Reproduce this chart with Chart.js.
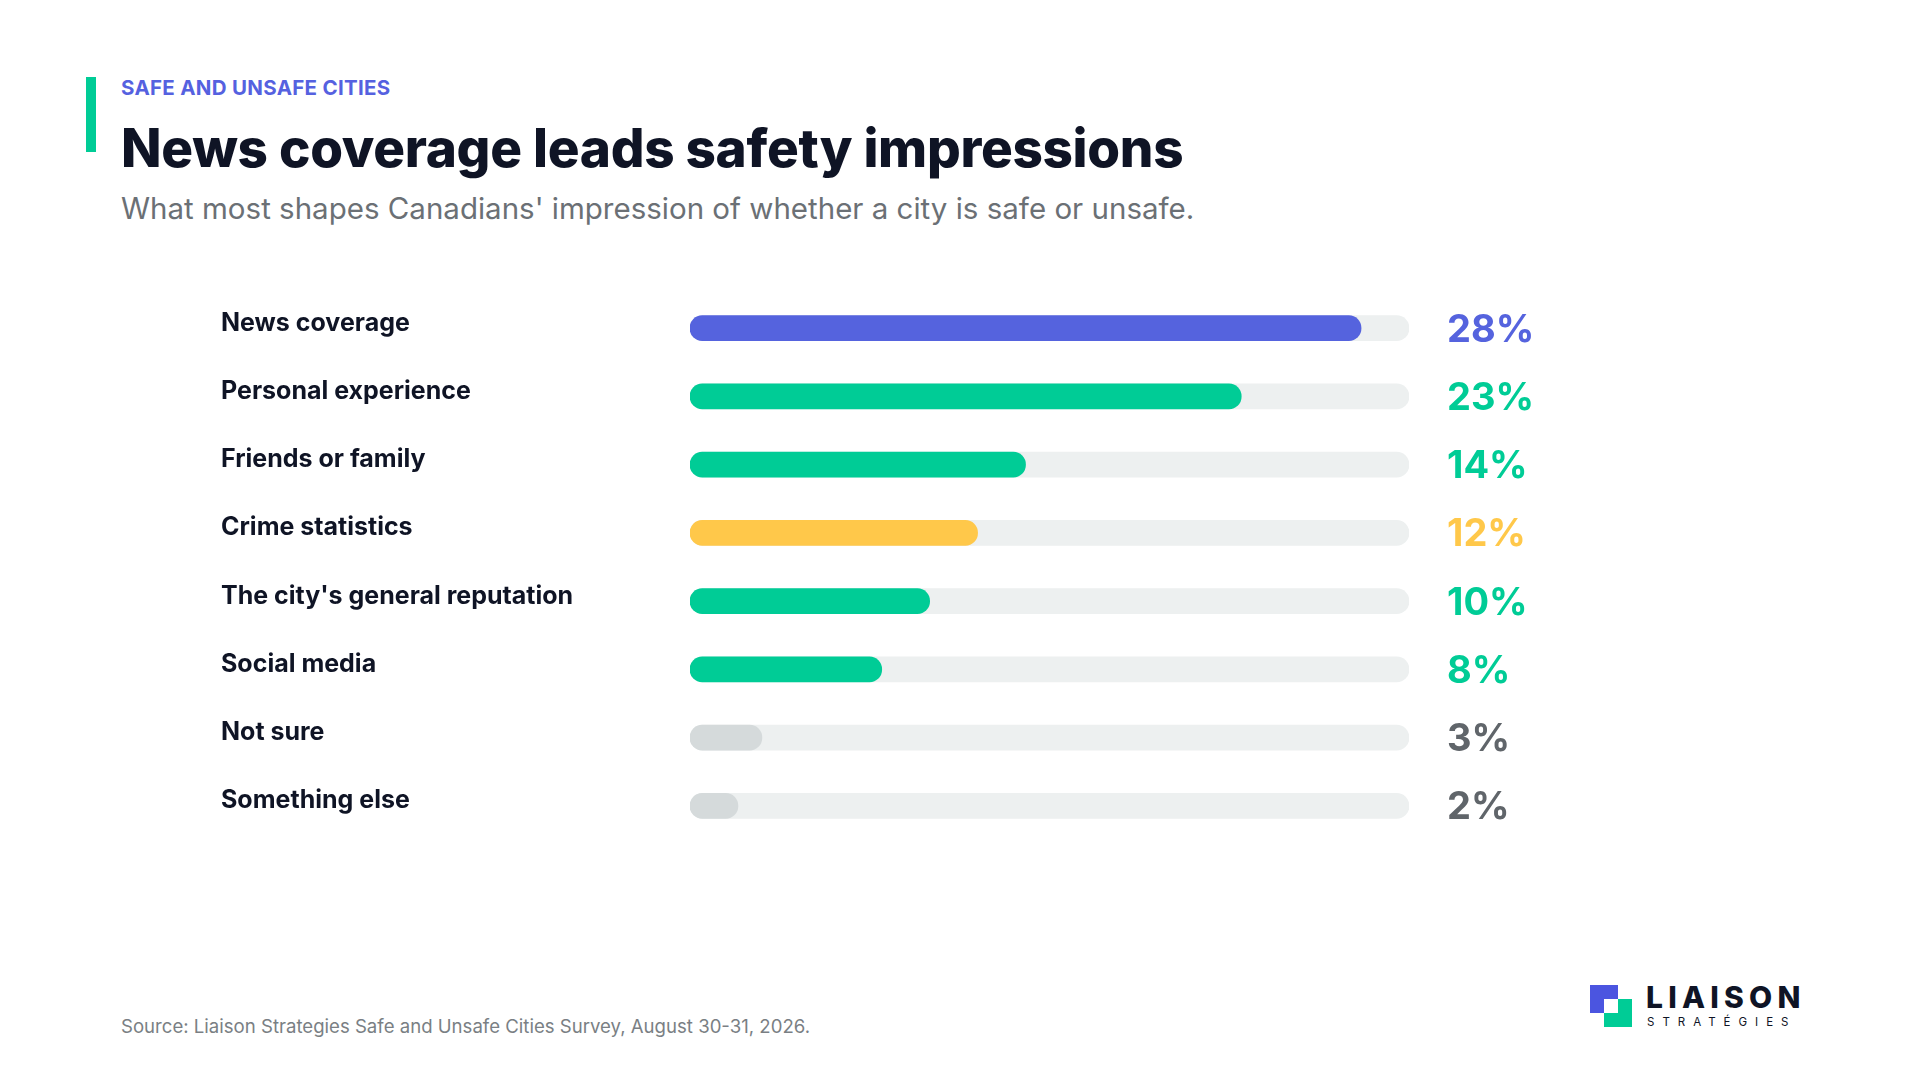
<!DOCTYPE html>
<html>
<head>
<meta charset="utf-8">
<script src="https://cdn.jsdelivr.net/npm/chart.js@4"></script>
<style>
  body { margin:0; width:1920px; height:1080px; background:#fff; font-family: Inter, "Noto Sans", sans-serif; position:relative; overflow:hidden; }
  .accent { position:absolute; left:86px; top:77px; width:10px; height:75px; background:#00CC96; }
  .eyebrow { position:absolute; left:121px; top:75px; font-size:20.5px; font-weight:700; color:#5561E0; letter-spacing:0.3px; }
  .title { position:absolute; left:121px; top:116px; font-size:53px; font-weight:800; color:#0F1425; letter-spacing:-0.3px; }
  .sub { position:absolute; left:121px; top:190px; font-size:29.5px; color:#6B7075; }
  .src { position:absolute; left:121px; top:1015px; font-size:18.6px; color:#7A7F84; }
  #wrap { position:absolute; left:221px; top:279px; width:1400px; height:576px; }
  .logo { position:absolute; left:1590px; top:983px; }
  .sq1 { position:absolute; left:0; top:2px; width:28px; height:28px; background:#4B55E0; }
  .sq2 { position:absolute; left:14px; top:16px; width:28px; height:28px; background:#00CC96; }
  .sq3 { position:absolute; left:14px; top:16px; width:14px; height:14px; background:#fff; }
  .l1 { position:absolute; left:56px; top:-4px; font-size:30px; font-weight:800; color:#0F1425; letter-spacing:5.2px; white-space:nowrap; }
  .l2 { position:absolute; left:57px; top:32px; font-size:11.5px; color:#0F1425; letter-spacing:8px; white-space:nowrap; }
</style>
</head>
<body>
<div class="accent"></div>
<div class="eyebrow">SAFE AND UNSAFE CITIES</div>
<div class="title">News coverage leads safety impressions</div>
<div class="sub">What most shapes Canadians' impression of whether a city is safe or unsafe.</div>
<div id="wrap"><canvas id="myChart"></canvas></div>
<div class="src">Source: Liaison Strategies Safe and Unsafe Cities Survey, August 30-31, 2026.</div>
<div class="logo"><div class="sq1"></div><div class="sq2"></div><div class="sq3"></div>
  <div class="l1">LIAISON</div><div class="l2">STRATÉGIES</div></div>
<script>
const categories = ['News coverage', 'Personal experience', 'Friends or family', 'Crime statistics',
  "The city's general reputation", 'Social media', 'Not sure', 'Something else'];
const values = [28, 23, 14, 12, 10, 8, 3, 2];
const barColors = ['#5563DE', '#00CC96', '#00CC96', '#FFC84A', '#00CC96', '#00CC96', '#D5DADB', '#D5DADB'];
const textColors = ['#5563DE', '#00CC96', '#00CC96', '#FFC84A', '#00CC96', '#00CC96', '#60656A', '#60656A'];
const axisMax = 30;

const valueLabels = {
  id: 'valueLabels',
  afterDatasetsDraw(chart) {
    const ctx = chart.ctx;
    const x = chart.scales.x.getPixelForValue(axisMax) + 38;
    ctx.save();
    ctx.font = '700 38px Inter, "Noto Sans", sans-serif';
    ctx.textBaseline = 'middle';
    values.forEach((v, i) => {
      ctx.fillStyle = textColors[i];
      ctx.fillText(v + '%', x, chart.scales.y.getPixelForValue(i) + 2);
    });
    ctx.restore();
  }
};

const ctx = document.getElementById('myChart');
const myChart = new Chart(ctx, {
  type: 'bar',
  data: {
    labels: categories,
    datasets: [{
      data: values,
      backgroundColor: barColors,
      borderRadius: 13,
      borderSkipped: false,
      barThickness: 25
    }, {
      data: categories.map(() => axisMax),
      backgroundColor: '#EDF0F0',
      borderRadius: 13,
      borderSkipped: false,
      barThickness: 25
    }]
  },
  options: {
    indexAxis: 'y',
    responsive: true,
    maintainAspectRatio: false,
    animation: false,
    layout: { padding: { right: 212 } },
    plugins: { legend: { display: false }, tooltip: { enabled: false } },
    datasets: { bar: { grouped: false } },
    scales: {
      x: { min: 0, max: axisMax, display: false },
      y: {
        grid: { display: false },
        border: { display: false },
        afterFit(scale) { scale.width = 469; },
        ticks: {
          crossAlign: 'far',
          padding: 0,
          labelOffset: -5,
          color: '#0F1425',
          font: { family: 'Inter, "Noto Sans", sans-serif', size: 25, weight: '700' }
        }
      }
    }
  },
  plugins: [valueLabels]
});
</script>
</body>
</html>
